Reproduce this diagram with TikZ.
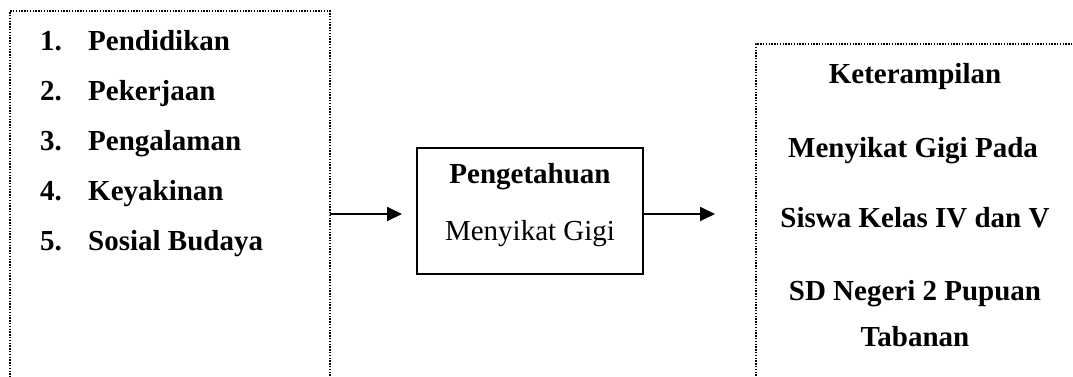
\documentclass[tikz,border=0pt]{standalone}
\usepackage{fontspec}
\setmainfont{Liberation Serif}
\usetikzlibrary{arrows.meta}
\begin{document}
\begin{tikzpicture}[x=1pt,y=-1pt,
  frame/.style={draw, line width=1.4pt, dash pattern=on 1.4pt off 1.4pt, inner sep=0pt, outer sep=0pt},
  solidbox/.style={draw, line width=1.6pt, inner sep=0pt, outer sep=0pt, minimum width=226pt, minimum height=126pt},
  txt/.style={font=\fontsize{29}{34}\selectfont, inner sep=0pt},
  btxt/.style={font=\fontsize{29}{34}\selectfont\bfseries, inner sep=0pt},
  arr/.style={-{Triangle[length=15pt,width=14pt]}, line width=1.8pt}]
\useasboundingbox (0,0) rectangle (1073,376);
\clip (0,0) rectangle (1073,376);
% boxes
\node[frame, minimum width=320pt, minimum height=420pt] (leftbox) at (170,221) {};
\node[solidbox] (mid) at (530,211) {};
\node[frame, minimum width=360pt, minimum height=400pt] (rightbox) at (936,244) {};
% left list
\foreach \n/\t [count=\i from 0] in {1/Pendidikan,2/Pekerjaan,3/Pengalaman,4/Keyakinan,5/Sosial Budaya}{
  \node[btxt, anchor=base west] (num\n) at (40,{50+50*\i}) {\n.};
  \node[btxt, anchor=base west] (item\n) at (88,{50+50*\i}) {\t};
}
% middle text
\node[btxt, anchor=base] (m1) at (530,183) {Pengetahuan};
\node[txt, anchor=base] (m2) at (530,240) {Menyikat Gigi};
% right text
\node[btxt, anchor=base] (r1) at (915,83) {Keterampilan};
\node[btxt, anchor=base] (r2) at (913,157) {Menyikat Gigi Pada};
\node[btxt, anchor=base] (r3) at (915,227) {Siswa Kelas IV dan V};
\node[btxt, anchor=base] (r4) at (915,300) {SD Negeri 2 Pupuan};
\node[btxt, anchor=base] (r5) at (915,346) {Tabanan};
% arrows
\coordinate (a1) at (330,214);
\coordinate (a2) at (643,214);
\draw[arr, shorten >=15pt] (a1) -- (mid.west |- a1);
\draw[arr, shorten >=41pt] (a2) -- (rightbox.west |- a2);
\end{tikzpicture}
\end{document}
